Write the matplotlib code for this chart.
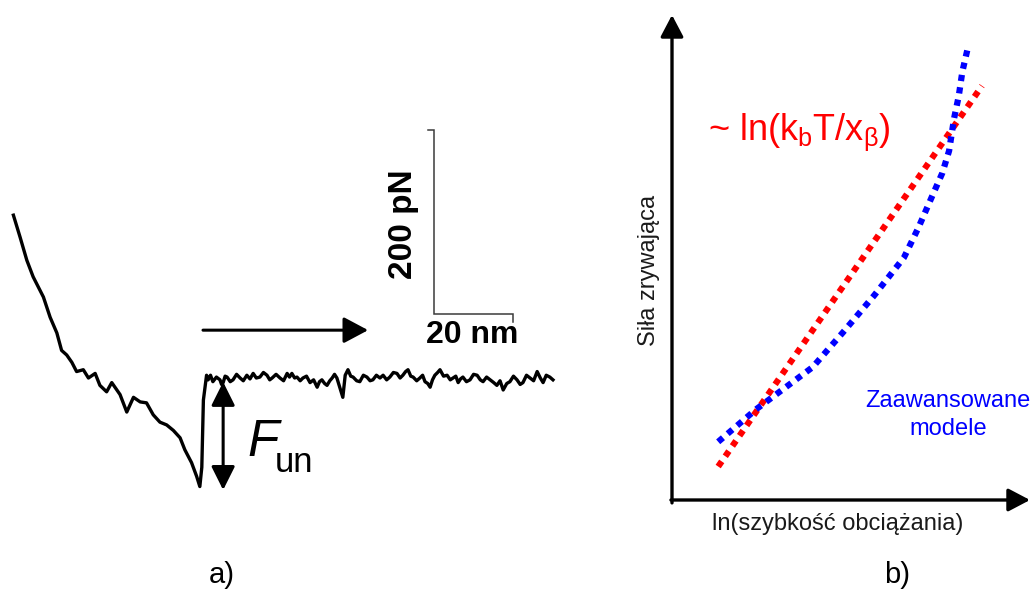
import matplotlib
matplotlib.use('Agg')
import matplotlib.pyplot as plt

W, H = 1035, 589

# ---------------- Panel a: force-extension trace (nm, pN) ----------------
trace_nm = [0.1, 1.8, 3.5, 5.1, 7.7, 9.4, 11.1, 12.3, 13.6, 14.9, 16.1, 17.8,
            19.1, 20.8, 22.0, 23.7, 25.0, 27.1, 28.8, 30.5, 32.2, 33.8, 35.5,
            37.2, 38.9, 40.6, 42.3, 43.5, 45.2, 46.5, 47.3, 47.8, 48.2, 49.0,
            49.4, 50.0, 50.6, 51.5, 52.4, 52.8, 53.2, 53.7, 54.2, 55.0,
            55.7, 56.6, 57.5, 58.3, 59.2, 60.0, 60.8, 61.6, 62.5, 63.4,
            64.3, 65.0, 65.6, 66.6, 67.6, 68.5, 69.4, 70.0, 70.6, 71.3,
            71.9, 72.7, 73.4, 74.3, 75.2, 76.1, 77.0, 77.6, 78.2, 78.9,
            79.5, 80.2, 80.8, 81.4, 82.0, 82.8, 83.5, 84.1, 84.8, 85.5,
            86.1, 87.0, 87.8, 88.7, 89.6, 90.4, 91.1, 92.0, 92.9, 93.7,
            94.6, 95.4, 96.3, 97.2, 98.0, 98.7, 99.4, 100.0, 100.7, 101.3,
            102.2, 103.0, 103.7, 104.3, 105.0, 105.6, 106.2, 106.8, 107.5, 108.1,
            109.0, 109.9, 110.7, 111.4, 112.1, 112.7, 113.3, 113.9, 114.8, 115.7,
            116.6, 117.5, 118.3, 119.0, 119.9, 120.8, 121.7, 122.5, 123.3, 124.1,
            125.0, 125.8, 126.7, 127.6, 128.4, 129.1, 130.0, 130.9, 131.8, 132.7,
            133.5, 134.2, 135.0, 135.9, 136.7]
trace_pN = [177, 153, 128, 110, 88, 66, 49, 30, 25, 17, 7, 9,
            0, 5, -8, -15, -5, -18, -37, -21, -26, -27, -40,
            -48, -51, -57, -65, -78, -92, -107, -118, -97, -24, 3,
            -2, 3, -4, 1, -2, -7, -5, 2, 1, -4,
            -2, 4, 0, -3, 3, -1, 5, 0, 1, 6,
            3, -2, 0, 4, 0, -3, 5, 1, 5, 0,
            1, -3, 0, 2, -5, -2, -10, -4, -2, -6,
            -8, -3, 0, 4, 0, -11, -21, 3, 9, 2,
            1, -3, -4, 3, 1, -3, -2, 3, 0, 3,
            -2, 1, 6, 5, 0, 3, 7, 9, 2, 1,
            -3, 0, 3, -4, -6, -10, -2, 3, 6, 9,
            2, 3, -2, 0, 2, -5, -1, 1, -4, -2,
            4, 3, -2, -4, 1, -2, -5, -8, -3, -13,
            -6, -4, 2, -2, -7, -5, 3, 0, -3, 7,
            0, -5, 3, 1, -2]
scale_nm = 20
scale_pN = 200

# ---------------- Panel b: rupture force vs ln(loading rate) ----------------
rate_red = [1.29, 8.66]
force_red = [0.69, 8.54]
rate_blue = [1.29, 2.35, 3.93, 4.78, 5.65, 6.48, 6.88, 7.27, 7.55, 7.74, 7.88,
             8.01, 8.11, 8.25]
force_blue = [1.20, 1.87, 2.74, 3.46, 4.22, 5.00, 5.61, 6.27, 6.74, 7.20, 7.87,
              8.33, 8.83, 9.28]

plt.rcParams['font.family'] = ['Liberation Sans', 'DejaVu Sans']
plt.rcParams['mathtext.fontset'] = 'custom'
plt.rcParams['mathtext.rm'] = 'Liberation Sans'
plt.rcParams['mathtext.it'] = 'Liberation Sans:italic'

fig = plt.figure(figsize=(W / 100, H / 100), dpi=100)
fig.patch.set_facecolor('white')


def fx(x):
    return x / W


def fy(y):
    return 1 - y / H


# ---- panel a axes ----
axa = fig.add_axes([0, 0, 560 / W, 1])
axa.set_xlim((0 - 13) / 3.95, (560 - 13) / 3.95)
axa.set_ylim((378 - 589) * 1.087, 378 * 1.087)
axa.axis('off')
axa.plot(trace_nm, trace_pN, color='black', lw=2.4, solid_joinstyle='round')

# scale bar
x0, y0 = 106.6, 70
axa.plot([x0 - 1.5, x0, x0, x0 + scale_nm, x0 + scale_nm],
         [y0 + scale_pN, y0 + scale_pN, y0, y0, y0 - 9],
         color='#3a3a3a', lw=1.1, solid_joinstyle='miter')

# pulling direction arrow
axa.annotate('', xy=(89.9, 52), xytext=(48.1, 52),
             arrowprops=dict(arrowstyle='-|>,head_length=0.75,head_width=0.4',
                             mutation_scale=20, lw=2.2, color='black',
                             shrinkA=0, shrinkB=0))
# F_un double arrow
axa.annotate('', xy=(53.2, -121.7), xytext=(53.2, -4.3),
             arrowprops=dict(arrowstyle='<|-|>,head_length=0.72,head_width=0.36',
                             mutation_scale=20, lw=2.2, color='black',
                             shrinkA=0, shrinkB=0))

fig.text(fx(412), fy(224), '200 pN', rotation=90, rotation_mode='anchor',
         ha='center', va='baseline', fontsize=24, fontweight='bold', color='black')
fig.text(fx(472), fy(343), '20 nm', ha='center', va='baseline',
         fontsize=23, fontweight='bold', color='black')
fig.text(fx(247), fy(456), 'F', ha='left', va='baseline', fontsize=37,
         fontstyle='italic', color='black')
fig.text(fx(275), fy(472), 'un', ha='left', va='baseline', fontsize=25,
         color='black')
fig.text(fx(222), fy(583), 'a)', ha='center', va='baseline', fontsize=21,
         color='black')

# ---- panel b axes ----
axb = fig.add_axes([672 / W, (589 - 500) / H, 358 / W, 485 / H])
axb.set_xlim(0, 10)
axb.set_ylim(0, 10)
axb.axis('off')
axb.annotate('', xy=(0, 10), xytext=(0, -0.06),
             arrowprops=dict(arrowstyle='-|>,head_length=0.95,head_width=0.5',
                             mutation_scale=14, lw=2.4, color='black',
                             shrinkA=0, shrinkB=0), annotation_clip=False)
axb.annotate('', xy=(10, 0), xytext=(-0.03, 0),
             arrowprops=dict(arrowstyle='-|>,head_length=0.95,head_width=0.5',
                             mutation_scale=14, lw=2.4, color='black',
                             shrinkA=0, shrinkB=0), annotation_clip=False)

axb.plot(rate_red, force_red, color='#ff0000', lw=4.5, linestyle=(0, (1, 1.0)),
         dash_capstyle='butt', clip_on=False)
axb.plot(rate_blue, force_blue, color='#0000ff', lw=4.5, linestyle=(0, (1, 1.0)),
         dash_capstyle='butt', clip_on=False)

fig.text(fx(708), fy(140), r'~ ln(k$_\mathregular{b}$T/x$_\mathregular{β}$)',
         ha='left', va='baseline', fontsize=26, color='#ff0000')
fig.text(fx(948), fy(407), 'Zaawansowane', ha='center', va='baseline',
         fontsize=17, color='#0000ff')
fig.text(fx(948), fy(435), 'modele', ha='center', va='baseline',
         fontsize=17, color='#0000ff')
fig.text(fx(655), fy(270), 'Siła zrywająca', rotation=90, rotation_mode='anchor',
         ha='center', va='baseline', fontsize=17, color='#1a1a1a')
fig.text(fx(838), fy(530), 'ln(szybkość obciążania)', ha='center', va='baseline',
         fontsize=17, color='#1a1a1a')
fig.text(fx(897), fy(583), 'b)', ha='center', va='baseline', fontsize=21,
         color='black')

fig.savefig('out.png', dpi=100, facecolor='white')
